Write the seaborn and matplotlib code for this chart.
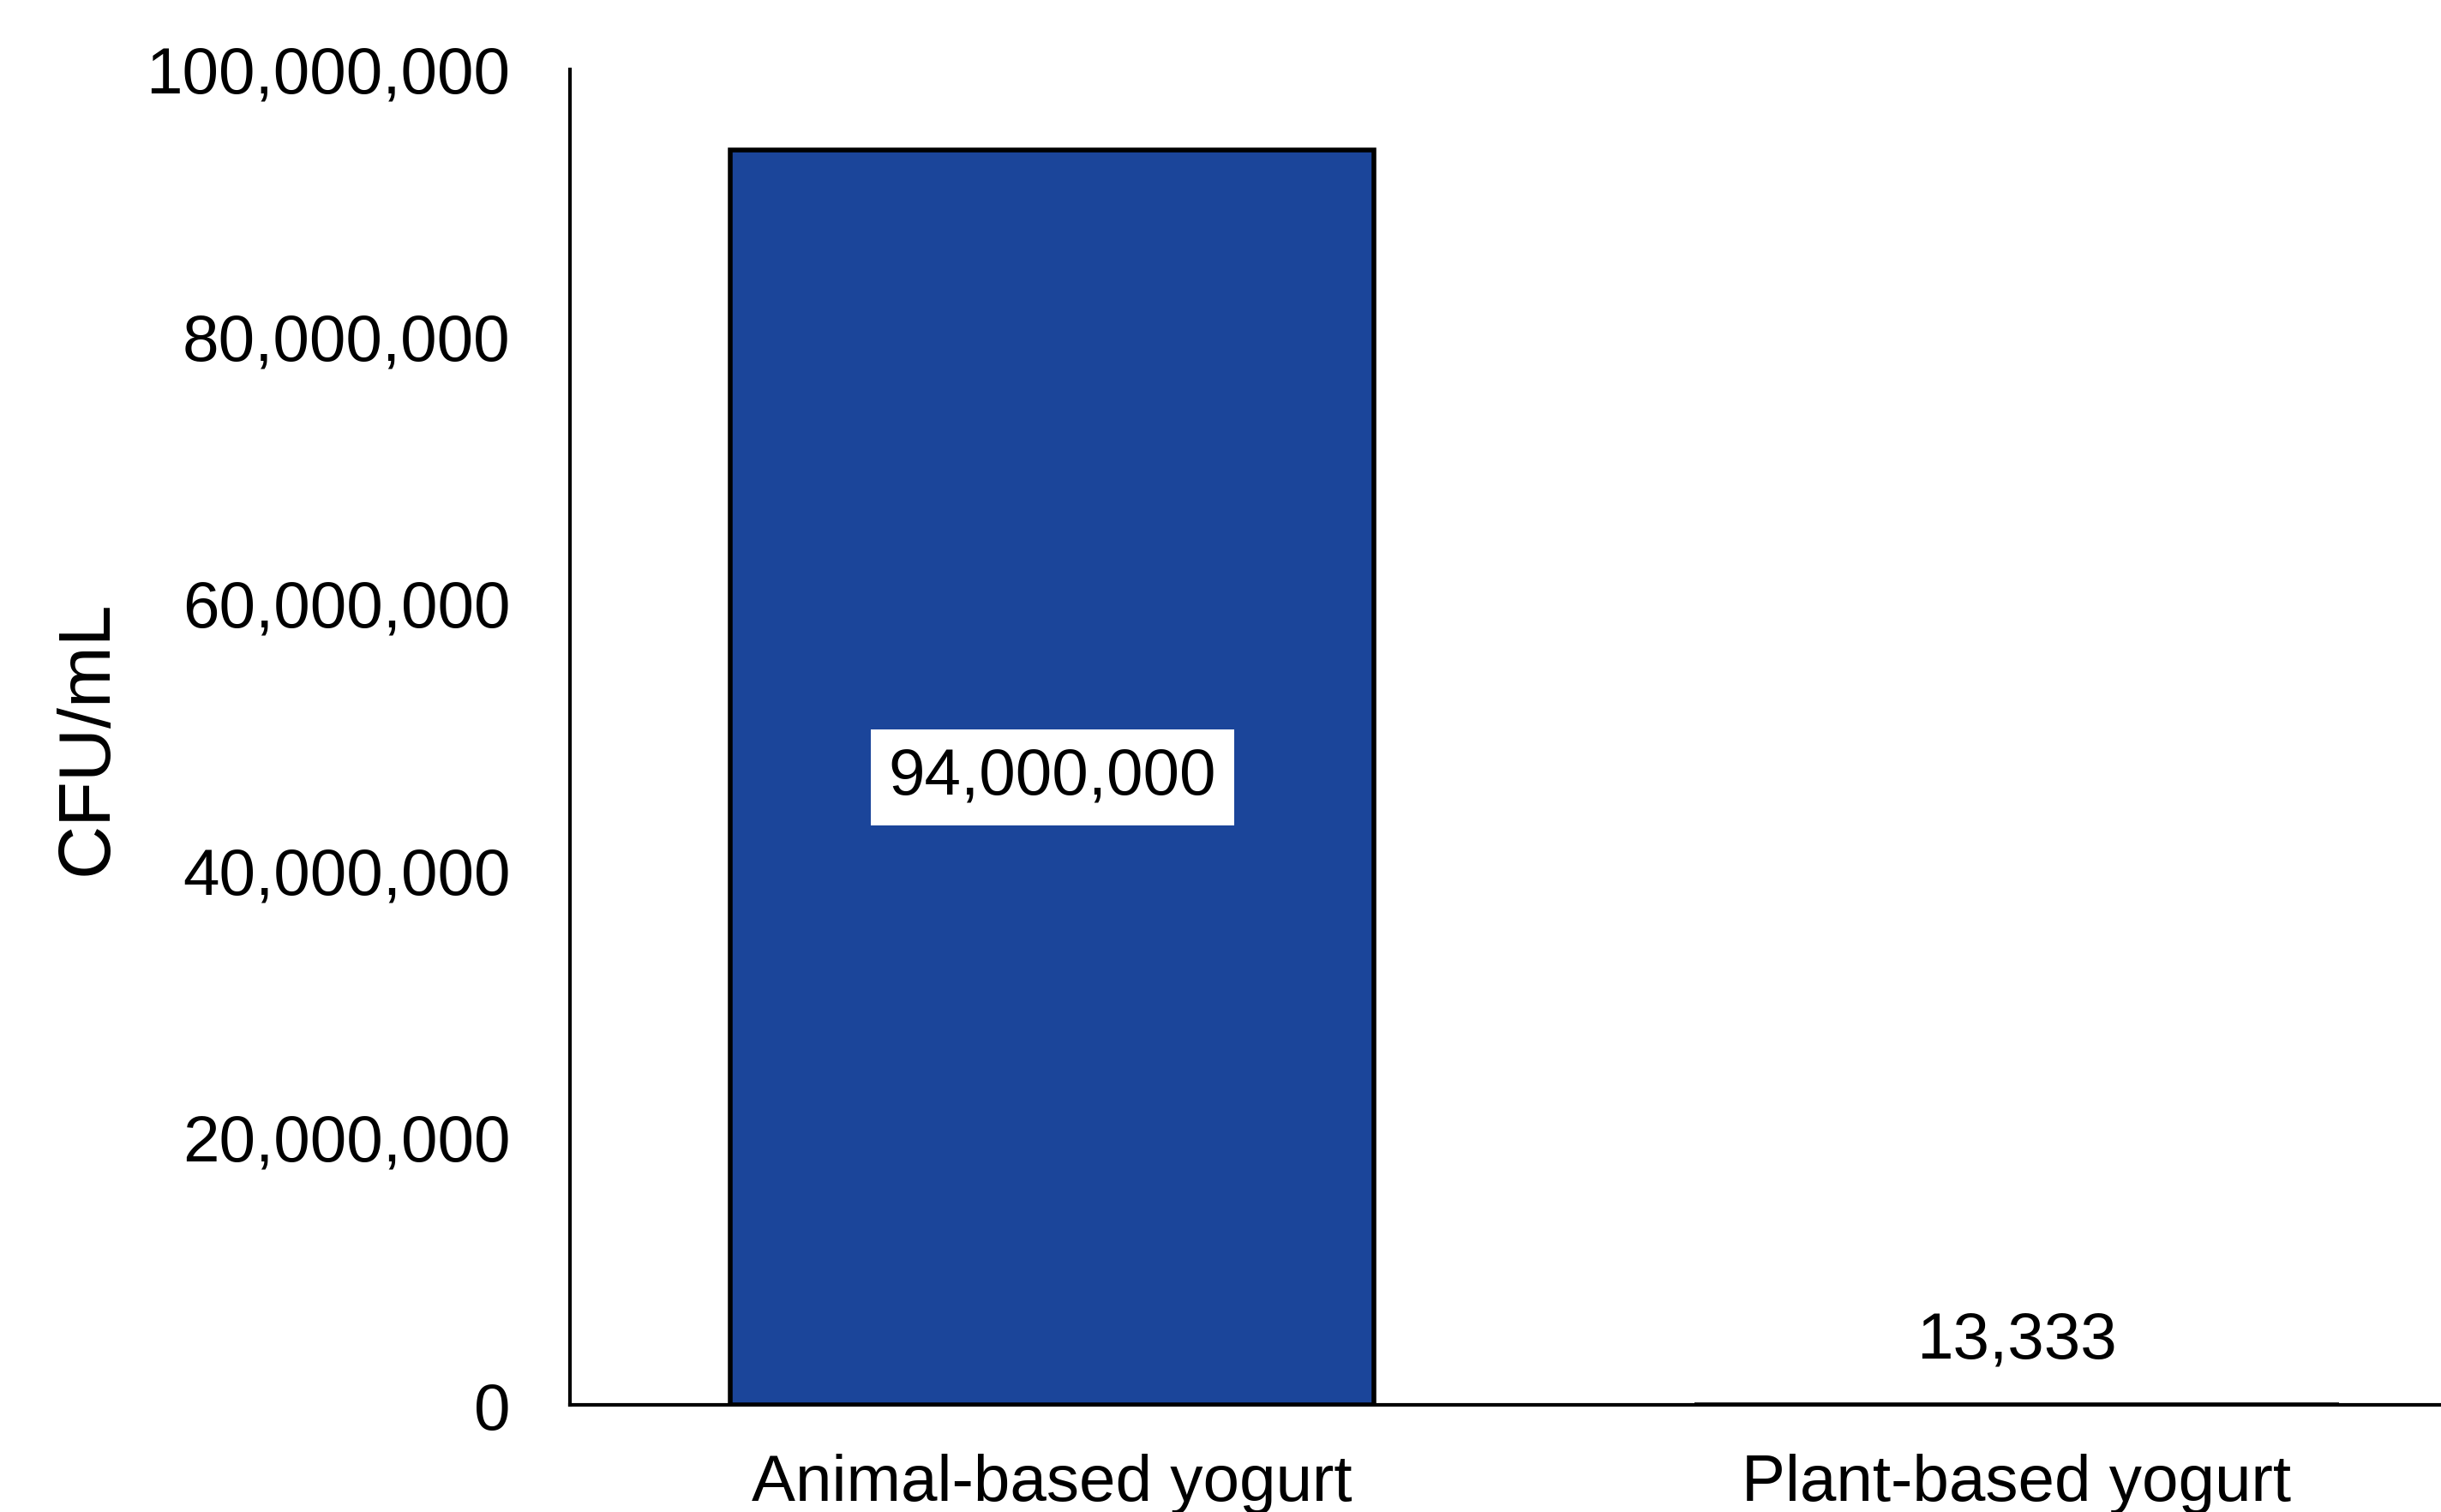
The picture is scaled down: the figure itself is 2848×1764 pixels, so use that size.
import matplotlib
matplotlib.use("Agg")
import matplotlib.pyplot as plt
import seaborn as sns
import pandas as pd
from matplotlib.ticker import FuncFormatter

categories = ["Animal-based yogurt", "Plant-based yogurt"]
values = [94000000, 13333]
label_texts = ["94,000,000", "13,333"]
yticks = [0, 20000000, 40000000, 60000000, 80000000, 100000000]

sns.set_theme(style="white")
plt.rcParams['font.family'] = ['Liberation Sans', 'DejaVu Sans']

df = pd.DataFrame({"cat": categories, "val": values})

fig = plt.figure(figsize=(28.48, 17.65), dpi=100)
ax = fig.add_axes([0.2335, 0.0708, 0.7665, 0.8827])

bar_color = "#1B459A"
sns.barplot(data=df, x="cat", y="val", ax=ax, color=bar_color, width=0.668,
            edgecolor="black", linewidth=4, saturation=1, zorder=3)

ax.set_ylim(0, 100000000)
ax.set_xlim(-0.5, 1.44)
ax.set_yticks(yticks)
ax.yaxis.set_major_formatter(FuncFormatter(lambda v, p: f"{int(v):,}"))

for s in ["top", "right"]:
    ax.spines[s].set_visible(False)
for s in ["left", "bottom"]:
    ax.spines[s].set_color("black")
    ax.spines[s].set_linewidth(3)
    ax.spines[s].set_zorder(2)

ax.tick_params(axis="y", length=0, pad=50, labelsize=55, labelcolor="black")
ax.tick_params(axis="x", length=0, pad=40, labelsize=55, labelcolor="black")
ax.set_xlabel("")
ax.set_ylabel("CFU/mL", fontsize=62, color="black")
ax.yaxis.set_label_coords(-0.2395, 0.5)

# data labels
ax.text(0, values[0] / 2, label_texts[0], ha="center", va="center", fontsize=55,
        color="black", zorder=5,
        bbox=dict(boxstyle="square,pad=0.27", facecolor="white", edgecolor="none"))
ax.annotate(label_texts[1], xy=(1, values[1]), xytext=(0, 28), textcoords="offset points",
            ha="center", va="bottom", fontsize=55, color="black")

fig.savefig("out.png", dpi=100, facecolor="white")
